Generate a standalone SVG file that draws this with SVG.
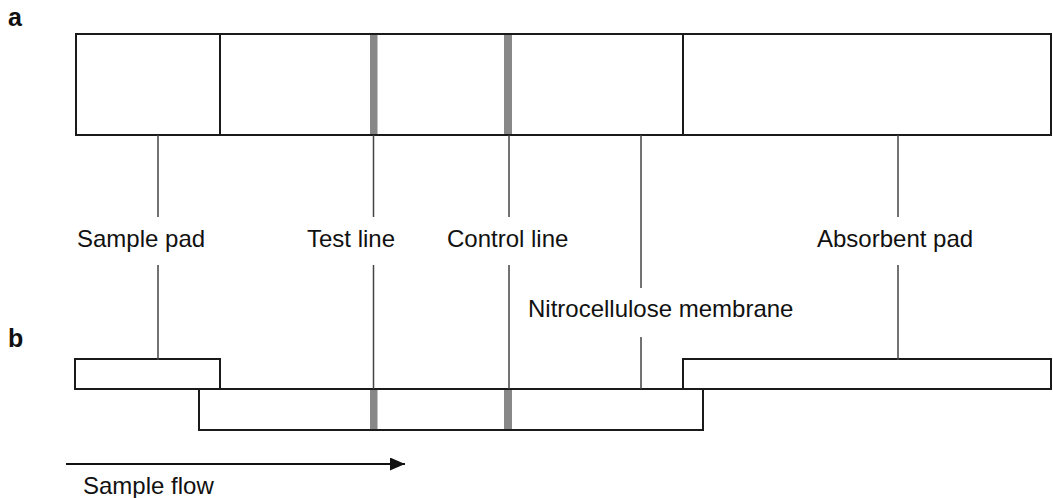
<svg xmlns="http://www.w3.org/2000/svg" width="1053" height="498" viewBox="0 0 1053 498">
<style>
.box{fill:#fff;stroke:#1a1a1a;stroke-width:2}
.div{stroke:#1a1a1a;stroke-width:2}
.band{fill:#888}
.lead{stroke:#444;stroke-width:1.5;fill:none}
.lbl{font-family:"Liberation Sans",Arial,sans-serif;font-size:24px;fill:#111}
.pl{font-family:"Liberation Sans",Arial,sans-serif;font-size:25px;font-weight:bold;fill:#111}
</style>
<defs>
<marker id="ah" markerWidth="16" markerHeight="13" refX="15" refY="6.5" orient="auto" markerUnits="userSpaceOnUse">
<path d="M0,0 L15,6.5 L0,13 Z" fill="#111"/>
</marker>
</defs>
<rect width="1053" height="498" fill="#fff"/>
<text class="pl" x="8" y="26">a</text>
<text class="pl" x="8" y="347">b</text>

<g id="top-strip">
<rect class="box" x="76" y="34" width="975" height="101"/>
<line class="div" x1="220" y1="34" x2="220" y2="135"/>
<line class="div" x1="683" y1="34" x2="683" y2="135"/>
<rect class="band" x="370" y="35" width="7.5" height="99"/>
<rect class="band" x="504" y="35" width="8" height="99"/>
</g>

<g id="bottom-strip">
<rect class="box" x="199" y="389" width="504" height="41"/>
<rect class="box" x="75" y="359" width="145" height="30"/>
<rect class="box" x="683" y="359" width="368" height="30"/>
<line class="div" x1="220" y1="389" x2="683" y2="389"/>
<rect class="band" x="370" y="390" width="7.5" height="39"/>
<rect class="band" x="504" y="390" width="8" height="39"/>
</g>

<g id="connectors">
<path class="lead" d="M158,135 V217 M158,265 V360"/>
<path class="lead" d="M373.5,135 V217 M373.5,265 V389"/>
<path class="lead" d="M509,135 V217 M509,265 V389"/>
<path class="lead" d="M641,135 V288 M641,337 V389"/>
<path class="lead" d="M898,135 V217 M898,265 V360"/>
<line x1="66" y1="464" x2="405" y2="464" stroke="#111" stroke-width="2" marker-end="url(#ah)"/>
</g>

<g id="labels">
<text class="lbl" x="77" y="247">Sample pad</text>
<text class="lbl" x="307" y="247">Test line</text>
<text class="lbl" x="447" y="247">Control line</text>
<text class="lbl" x="528" y="317">Nitrocellulose membrane</text>
<text class="lbl" x="817" y="247">Absorbent pad</text>
<text class="lbl" x="83" y="494">Sample flow</text>
</g>
</svg>
